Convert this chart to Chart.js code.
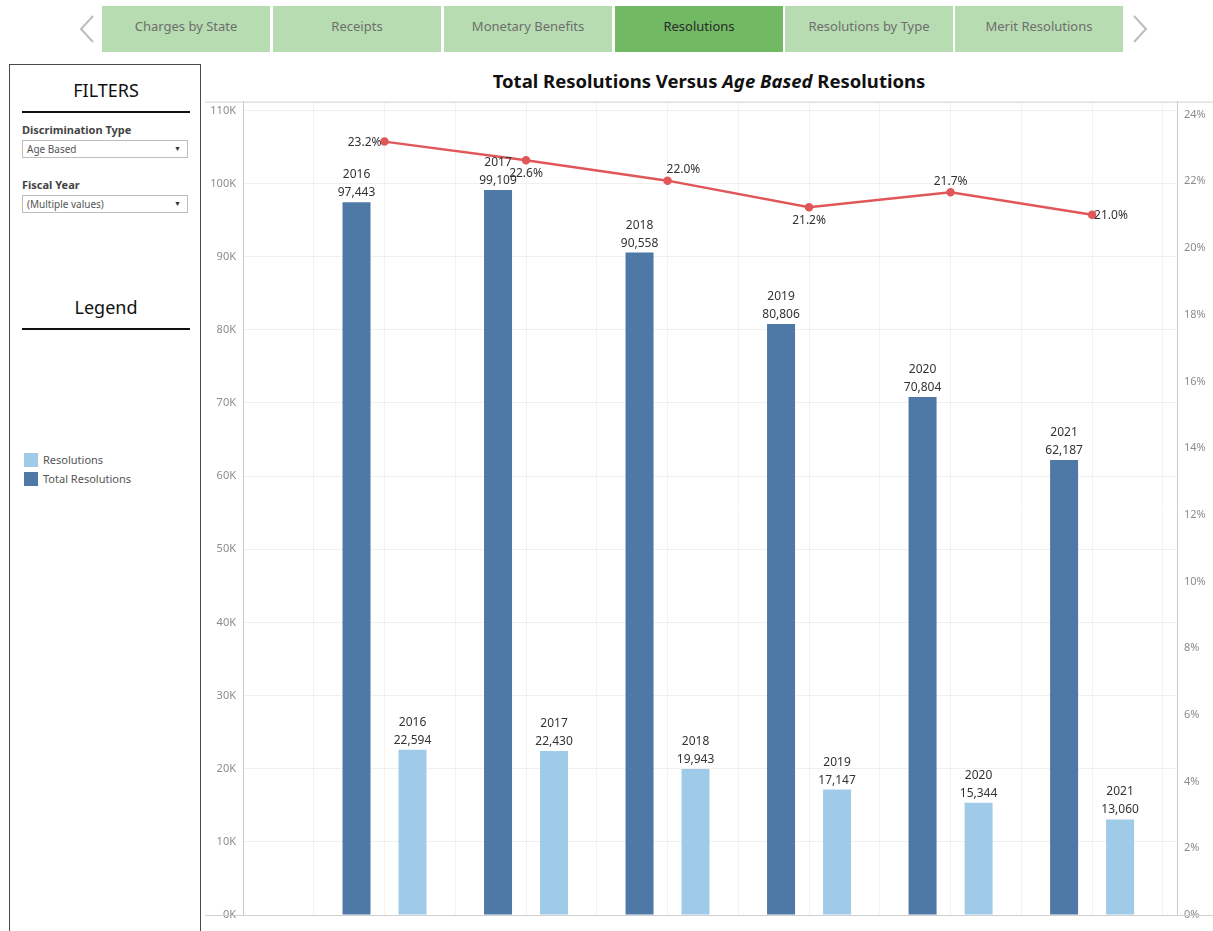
<!DOCTYPE html>
<html>
<head>
<meta charset="utf-8">
<script src="https://cdn.jsdelivr.net/npm/chart.js@4.4.0/dist/chart.umd.min.js"></script>
<style>
  body { margin: 0; width: 1213px; height: 931px; overflow: hidden; background: #fff; position: relative; font-family: "Noto Sans", sans-serif; }
  .tab { position: absolute; top: 6px; height: 46px; width: 168px; background: #b7dcb1; color: #6e6e6e; font-size: 13px; display: flex; align-items: center; justify-content: center; box-sizing: border-box; padding-bottom: 6px; }
  .tab.active { background: #72b964; color: #2a2a2a; }
  #chev { position: absolute; left: 0; top: 0; }
  #panel { position: absolute; left: 9px; top: 64px; width: 192px; height: 900px; border: 1px solid #4a4a4a; box-sizing: border-box; }
  .head { position: absolute; left: 12px; width: 168px; text-align: center; font-size: 18px; color: #111; }
  .rule { position: absolute; left: 12px; width: 168px; height: 2px; background: #111; }
  .flabel { position: absolute; left: 12px; font-size: 11px; font-weight: bold; color: #444; }
  .drop { position: absolute; left: 12px; width: 166px; height: 18px; border: 1px solid #bdbdbd; box-sizing: border-box; font-size: 10px; color: #555; line-height: 16px; padding-left: 4px; }
  .drop span { position: absolute; right: 6px; top: 0; font-size: 7px; color: #333; }
  .leg { position: absolute; left: 14px; font-size: 11px; color: #555; }
  .leg i { display: inline-block; width: 14px; height: 14px; vertical-align: -3px; margin-right: 5px; }
  #title { position: absolute; left: 205px; width: 1008px; top: 68px; text-align: center; font-size: 18.5px; font-weight: bold; color: #111; }
  #wrap { position: absolute; left: 205px; top: 88px; width: 1008px; height: 843px; }
</style>
</head>
<body>
<svg id="chev" width="1213" height="60">
  <polyline points="93,16 81,29 93,42" fill="none" stroke="#bdbdbd" stroke-width="2"/>
  <polyline points="1134,16 1146,29 1134,42" fill="none" stroke="#bdbdbd" stroke-width="2"/>
</svg>
<div class="tab" style="left:102px">Charges by State</div>
<div class="tab" style="left:273px">Receipts</div>
<div class="tab" style="left:444px">Monetary Benefits</div>
<div class="tab active" style="left:615px">Resolutions</div>
<div class="tab" style="left:785px">Resolutions by Type</div>
<div class="tab" style="left:955px">Merit Resolutions</div>

<div id="panel">
  <div class="head" style="top:13px">FILTERS</div>
  <div class="rule" style="top:46px"></div>
  <div class="flabel" style="top:57px">Discrimination Type</div>
  <div class="drop" style="top:75px">Age Based<span>&#9660;</span></div>
  <div class="flabel" style="top:112px">Fiscal Year</div>
  <div class="drop" style="top:130px">(Multiple values)<span>&#9660;</span></div>
  <div class="head" style="top:230px">Legend</div>
  <div class="rule" style="top:263px"></div>
  <div class="leg" style="top:387px"><i style="background:#a0cbe8"></i>Resolutions</div>
  <div class="leg" style="top:406px"><i style="background:#4e79a7"></i>Total Resolutions</div>
</div>

<div id="title">Total Resolutions Versus <i>Age Based</i> Resolutions</div>
<div id="wrap"><canvas id="chart"></canvas></div>

<script>
const years = ['2016', '2017', '2018', '2019', '2020', '2021'];
const totalResolutions = [97443, 99109, 90558, 80806, 70804, 62187];
const ageResolutions = [22594, 22430, 19943, 17147, 15344, 13060];
const agePercent = [0.2319, 0.2263, 0.2202, 0.2122, 0.2167, 0.2100];
const countTicks = [0, 10000, 20000, 30000, 40000, 50000, 60000, 70000, 80000, 90000, 100000, 110000];
const percentTicks = [0, 0.02, 0.04, 0.06, 0.08, 0.10, 0.12, 0.14, 0.16, 0.18, 0.20, 0.22, 0.24];

// where each percentage label sits around its point
const pctPlacement = ['left', 'below', 'aboveRight', 'below', 'above', 'right'];

const toPoints = arr => arr.map((v, i) => ({ x: i, y: v }));

const frameLines = {
  id: 'frameLines',
  beforeDatasetsDraw(chart) {
    const { ctx, chartArea, width } = chart;
    ctx.save();
    ctx.strokeStyle = '#cfcfcf';
    ctx.lineWidth = 1;
    ctx.beginPath();
    ctx.moveTo(0, chartArea.top + 0.5);
    ctx.lineTo(width, chartArea.top + 0.5);
    ctx.moveTo(0, chartArea.bottom + 0.5);
    ctx.lineTo(width, chartArea.bottom + 0.5);
    ctx.stroke();
    ctx.restore();
  }
};

const valueLabels = {
  id: 'valueLabels',
  afterDatasetsDraw(chart) {
    const ctx = chart.ctx;
    ctx.save();
    ctx.font = '11px "Noto Sans"';
    ctx.fillStyle = '#333';
    chart.data.datasets.forEach((ds, di) => {
      const meta = chart.getDatasetMeta(di);
      if (meta.type === 'bar') {
        ctx.textAlign = 'center';
        ctx.textBaseline = 'alphabetic';
        meta.data.forEach((bar, i) => {
          ctx.fillText(years[i], bar.x, bar.y - 24);
          ctx.fillText(ds.data[i].y.toLocaleString('en-US'), bar.x, bar.y - 6);
        });
      } else {
        ctx.font = '12px "Noto Sans"';
        ctx.textBaseline = 'middle';
        meta.data.forEach((pt, i) => {
          const txt = (ds.data[i].y * 100).toFixed(1) + '%';
          const p = pctPlacement[i];
          if (p === 'left') { ctx.textAlign = 'right'; ctx.fillText(txt, pt.x - 3, pt.y + 1); }
          else if (p === 'right') { ctx.textAlign = 'left'; ctx.fillText(txt, pt.x + 2, pt.y + 1); }
          else if (p === 'below') { ctx.textAlign = 'center'; ctx.fillText(txt, pt.x, pt.y + 13); }
          else if (p === 'above') { ctx.textAlign = 'center'; ctx.fillText(txt, pt.x, pt.y - 11); }
          else { ctx.textAlign = 'left'; ctx.fillText(txt, pt.x - 1, pt.y - 11); }
        });
      }
    });
    ctx.restore();
  }
};

const tickFont = { family: 'Noto Sans', size: 11 };

new Chart(document.getElementById('chart'), {
  data: {
    datasets: [
      {
        type: 'line',
        label: 'Age Based %',
        data: toPoints(agePercent),
        yAxisID: 'y1',
        borderColor: '#e15759',
        backgroundColor: '#e15759',
        borderWidth: 2.5,
        pointRadius: 3,
        tension: 0,
        order: 0
      },
      {
        type: 'bar',
        label: 'Total Resolutions',
        data: toPoints(totalResolutions),
        yAxisID: 'y',
        backgroundColor: '#4e79a7',
        categoryPercentage: 1.583,
        barPercentage: 0.5,
        order: 1
      },
      {
        type: 'bar',
        label: 'Resolutions',
        data: toPoints(ageResolutions),
        yAxisID: 'y',
        backgroundColor: '#a0cbe8',
        categoryPercentage: 1.583,
        barPercentage: 0.5,
        order: 1
      }
    ]
  },
  options: {
    responsive: true,
    maintainAspectRatio: false,
    animation: false,
    layout: { padding: { top: 10 } },
    plugins: { legend: { display: false }, tooltip: { enabled: false } },
    scales: {
      x: {
        type: 'linear',
        min: -1,
        max: 5.6,
        offset: false,
        afterBuildTicks: s => {
          const t = [];
          for (let v = -1; v <= 5.5; v += 0.5) t.push({ value: v });
          s.ticks = t;
        },
        ticks: { display: false },
        grid: { color: '#f2f2f2', drawTicks: false, offset: false },
        border: { display: false },
        afterFit: s => { s.height = 16; }
      },
      y: {
        position: 'left',
        min: 0,
        max: 111200,
        afterBuildTicks: s => { s.ticks = countTicks.map(v => ({ value: v })); },
        ticks: { font: tickFont, color: '#8c8c8c', padding: 7, callback: v => (v / 1000) + 'K' },
        grid: { color: '#f0f0f0', drawTicks: false },
        border: { color: '#cccccc' },
        afterFit: s => { s.width = 38; }
      },
      y1: {
        position: 'right',
        min: 0,
        max: 0.2439,
        afterBuildTicks: s => { s.ticks = percentTicks.map(v => ({ value: v })); },
        ticks: { font: tickFont, color: '#8c8c8c', padding: 7, callback: v => Math.round(v * 100) + '%' },
        grid: { display: false, drawTicks: false },
        border: { color: '#cccccc' },
        afterFit: s => { s.width = 36; }
      }
    }
  },
  plugins: [frameLines, valueLabels]
});
</script>
</body>
</html>
